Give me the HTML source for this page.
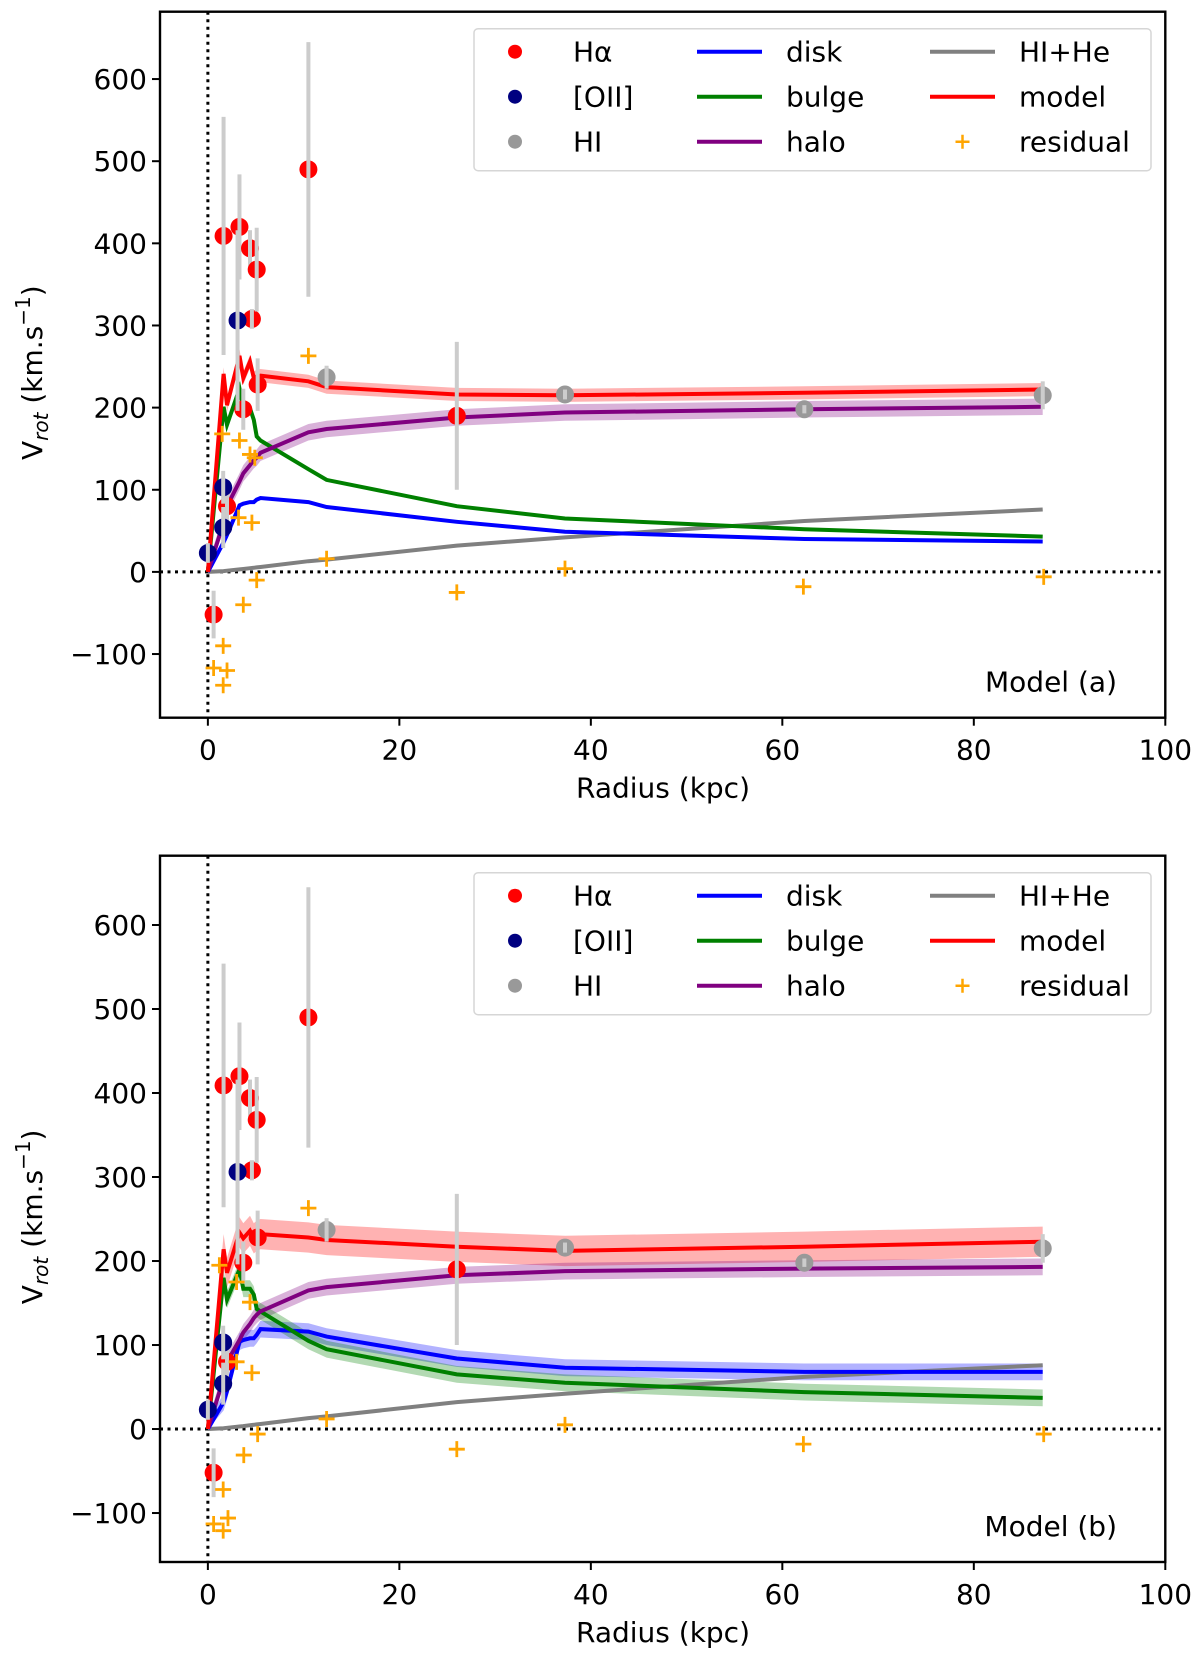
<!DOCTYPE html>
<html><head><meta charset="utf-8"><style>
html,body{margin:0;padding:0;background:#fff;}
svg{display:block;font-family:"DejaVu Sans","Liberation Sans",sans-serif;}
</style></head><body>
<svg id="fig" width="1200" height="1662" viewBox="0 0 1200 1662" xmlns="http://www.w3.org/2000/svg"></svg>
<script>
// ---- data ----
const haR   = [0.6, 1.64, 2.0, 3.3, 3.7, 4.4, 4.6, 5.1, 5.2, 10.5, 26];
const haV   = [-52, 409, 80, 420, 198, 394, 308, 368, 228, 490, 190];
const haE   = [29, 145, 30, 64, 25, 22, 12, 51, 32, 155, 90];
const oiiR  = [0, 1.6, 1.6, 3.1];
const oiiV  = [23, 103, 54, 306];
const oiiE  = [12, 20, 25, 110];
const hiR   = [12.4, 37.3, 62.3, 87.2];
const hiV   = [237, 216, 198, 215];
const hiE   = [14, 6, 5, 17];
const curveR = [0, 1.64, 2.0, 3.3, 3.7, 4.4, 4.8, 5.1, 5.5, 10.5, 12.4, 26, 37.3, 62.3, 87.2];
const gasV   = [0, 1, 1.5, 3, 3.5, 4.5, 5, 5.5, 6, 13, 15, 32, 42, 62, 76];
const modelA = [0, 241, 203, 263, 236, 256, 236, 238, 239, 232, 225, 216, 215, 218, 222];
const bulgeA = [0, 201, 179, 223, 199, 199, 185, 165, 160, 125, 112, 80, 65, 52, 43];
const haloA  = [0, 60, 80, 110, 120, 130, 136, 139, 145, 170, 174, 188, 194, 198, 201];
const diskA  = [0, 36, 45, 81, 83, 85, 85, 88, 90, 85, 79, 61, 49, 40, 37];
const modelB = [0, 214, 186, 234, 227, 236, 227, 230, 232, 228, 225, 217, 212, 217, 223];
const bulgeB = [0, 180, 154, 190, 167, 167, 160, 143, 140, 105, 95, 65, 55, 44, 37];
const haloB  = [0, 60, 80, 106, 115, 125, 132, 136, 140, 165, 169, 183, 188, 191, 193];
const diskB  = [0, 32, 45, 104, 106, 108, 108, 112, 119, 116, 110, 84, 73, 68, 68];
const resAR = [0.6, 1.6, 2.0, 1.6, 3.7, 5.1, 1.5, 3.3, 4.4, 4.9, 3.2, 4.6, 10.5, 12.4, 26, 37.3, 62.2, 87.3];
const resAV = [-117, -138, -120, -90, -40, -10, 168, 160, 143, 139, 66, 60, 263, 16, -25, 4, -18, -6];
const resBR = [0.6, 1.6, 2.1, 1.6, 3.75, 5.2, 1.2, 3.0, 4.4, 3.0, 4.6, 10.5, 12.4, 26, 37.3, 62.2, 87.3];
const resBV = [-113, -121, -106, -72, -31, -6, 195, 175, 151, 80, 67, 263, 12, -24, 5, -18, -6];
const xTicks = [0, 20, 40, 60, 80, 100];
const yTicks = [-100, 0, 100, 200, 300, 400, 500, 600];
const yTickLabels = ["\u2212100", "0", "100", "200", "300", "400", "500", "600"];

const NS = "http://www.w3.org/2000/svg";
const svg = document.getElementById("fig");
function mk(tag, attrs, parent) {
  const e = document.createElementNS(NS, tag);
  for (const k in attrs) e.setAttribute(k, attrs[k]);
  (parent || svg).appendChild(e);
  return e;
}

function panel(cfg) {
  const L = 160, R = 1165.3, T = cfg.top, B = cfg.bottom;
  const xS = v => L + (v - (-5)) / 105 * (R - L);
  const yS = v => B - (v - cfg.ymin) / (cfg.ymax - cfg.ymin) * (B - T);
  const g = mk("g", {});
  
  
  const clipId = "clip" + cfg.id;
  const cp = mk("clipPath", {id: clipId}, g);
  mk("rect", {x: L, y: T, width: R - L, height: B - T}, cp);
  const plot = mk("g", {"clip-path": "url(#" + clipId + ")"}, g);
  
  

  const zx = mk("line", {x1: xS(0), x2: xS(0), y1: T, y2: B, stroke: "#000", "stroke-width": 3, "stroke-dasharray": "3,4.5"}, plot);
  
  
  const zy = mk("line", {x1: L, x2: R, y1: yS(0), y2: yS(0), stroke: "#000", "stroke-width": 3, "stroke-dasharray": "3,4.5"}, plot);
  
  

  const pts = vals => curveR.map((r, i) => xS(r).toFixed(1) + "," + yS(vals[i]).toFixed(1));
  function band(vals, w, color, nm) {
    if (!w) return;
    const up = curveR.map((r, i) => xS(r).toFixed(1) + "," + yS(vals[i] + w).toFixed(1));
    const dn = curveR.map((r, i) => xS(r).toFixed(1) + "," + yS(Math.max(0, vals[i] - w)).toFixed(1)).reverse();
    const p = mk("polygon", {points: up.concat(dn).join(" "), fill: color, "fill-opacity": 0.3, stroke: "none"}, plot);
    
    
  }
  function line(vals, color, nm) {
    const p = mk("polyline", {points: pts(vals).join(" "), fill: "none", stroke: color, "stroke-width": 4, "stroke-linejoin": "miter"}, plot);
    
    
  }
  band(cfg.model, cfg.bw.model, "#ff0000", "model-band");
  band(cfg.halo, cfg.bw.halo, "#800080", "halo-band");
  band(cfg.disk, cfg.bw.disk, "#0000ff", "disk-band");
  band(cfg.bulge, cfg.bw.bulge, "#008000", "bulge-band");
  line(gasV, "#808080", "hi-he-curve");
  line(cfg.disk, "#0000ff", "disk-curve");
  line(cfg.bulge, "#008000", "bulge-curve");
  line(cfg.halo, "#800080", "halo-curve");
  line(cfg.model, "#ff0000", "model-curve");

  function series(rs, vs, es, color, nm) {
    rs.forEach((r, i) => {
      const c = mk("circle", {cx: xS(r), cy: yS(vs[i]), r: 9, fill: color}, plot);
      
      
      const eb = mk("line", {x1: xS(r), x2: xS(r), y1: yS(vs[i] + es[i]), y2: yS(vs[i] - es[i]), stroke: "#cccccc", "stroke-width": 4}, plot);
      
      
    });
  }
  series(haR, haV, haE, "#ff0000", "halpha");
  series(oiiR, oiiV, oiiE, "#000080", "oii");
  series(hiR, hiV, hiE, "#999999", "hi");

  cfg.resR.forEach((r, i) => {
    const x = xS(r), y = yS(cfg.resV[i]), s = 8;
    const p = mk("path", {d: `M${x - s},${y}H${x + s}M${x},${y - s}V${y + s}`, stroke: "#ffa500", "stroke-width": 2.8, fill: "none"}, plot);
    
    
  });

  const fr = mk("rect", {x: L, y: T, width: R - L, height: B - T, fill: "none", stroke: "#000", "stroke-width": 2.4}, g);
  
  

  xTicks.forEach(t => {
    const x = xS(t);
    const tk = mk("line", {x1: x, x2: x, y1: B, y2: B + 8, stroke: "#000", "stroke-width": 2}, g);
    
    
    const tx = mk("text", {x: x, y: B + 42, "text-anchor": "middle", "font-size": 28}, g);
    tx.textContent = t;
    
    
  });
  yTicks.forEach((t, i) => {
    const y = yS(t);
    const tk = mk("line", {x1: L - 8, x2: L, y1: y, y2: y, stroke: "#000", "stroke-width": 2}, g);
    
    
    const tx = mk("text", {x: L - 13, y: y + 10, "text-anchor": "end", "font-size": 28}, g);
    tx.textContent = yTickLabels[i];
    
    
  });
  const xl = mk("text", {x: 663, y: B + 80, "text-anchor": "middle", "font-size": 28}, g);
  xl.textContent = "Radius (kpc)";
  
  
  const yc = (T + B) / 2 + 8;
  const yl = mk("text", {x: 0, y: 0, transform: `translate(42,${yc}) rotate(-90)`, "text-anchor": "middle", "font-size": 28}, g);
  yl.innerHTML = 'V<tspan font-size="20" font-style="italic" dy="6">rot</tspan><tspan dy="-6"> (km.s</tspan><tspan font-size="20" dy="-12">\u22121</tspan><tspan dy="12">)</tspan>';
  
  
  const ml = mk("text", {x: 1117, y: B - 26, "text-anchor": "end", "font-size": 28}, g);
  ml.textContent = cfg.label;
  
  

  const lg = mk("g", {}, g);
  
  
  const lt = T + 17;
  mk("rect", {x: 474, y: lt, width: 677, height: 142, rx: 4, fill: "#fff", "fill-opacity": 0.85, stroke: "#d6d6d6", "stroke-width": 1.5}, lg);
  const rows = [lt + 23, lt + 68, lt + 113];
  const entries = [
    {col: 0, row: 0, type: "dot", c: "#ff0000", t: "H\u03b1"},
    {col: 0, row: 1, type: "dot", c: "#000080", t: "[OII]"},
    {col: 0, row: 2, type: "dot", c: "#999999", t: "HI"},
    {col: 1, row: 0, type: "line", c: "#0000ff", t: "disk"},
    {col: 1, row: 1, type: "line", c: "#008000", t: "bulge"},
    {col: 1, row: 2, type: "line", c: "#800080", t: "halo"},
    {col: 2, row: 0, type: "line", c: "#808080", t: "HI+He"},
    {col: 2, row: 1, type: "line", c: "#ff0000", t: "model"},
    {col: 2, row: 2, type: "plus", c: "#ffa500", t: "residual"}
  ];
  const colMark = [[500, 530], [697, 762], [930, 995]];
  const colText = [573, 786, 1019];
  entries.forEach(e => {
    const y = rows[e.row];
    const eg = mk("g", {}, lg);
    
    
    const [a, b] = colMark[e.col];
    const m = (a + b) / 2;
    if (e.type === "dot") mk("circle", {cx: 515, cy: y, r: 7, fill: e.c}, eg);
    else if (e.type === "line") mk("line", {x1: a, x2: b, y1: y, y2: y, stroke: e.c, "stroke-width": 4}, eg);
    else mk("path", {d: `M${m - 7},${y}H${m + 7}M${m},${y - 7}V${y + 7}`, stroke: e.c, "stroke-width": 2.5}, eg);
    const tx = mk("text", {x: colText[e.col], y: y + 10, "font-size": 28}, eg);
    tx.textContent = e.t;
  });
}

panel({id: "a", name: "panel-model-a", top: 11.7, bottom: 717.7, ymin: -177.5, ymax: 682,
  model: modelA, bulge: bulgeA, halo: haloA, disk: diskA,
  bw: {model: 8, halo: 10, disk: 0, bulge: 0}, resR: resAR, resV: resAV, label: "Model (a)"});
panel({id: "b", name: "panel-model-b", top: 855.7, bottom: 1562, ymin: -158.3, ymax: 682.5,
  model: modelB, bulge: bulgeB, halo: haloB, disk: diskB,
  bw: {model: 18, halo: 10, disk: 10, bulge: 10}, resR: resBR, resV: resBV, label: "Model (b)"});
</script>
</body></html>
